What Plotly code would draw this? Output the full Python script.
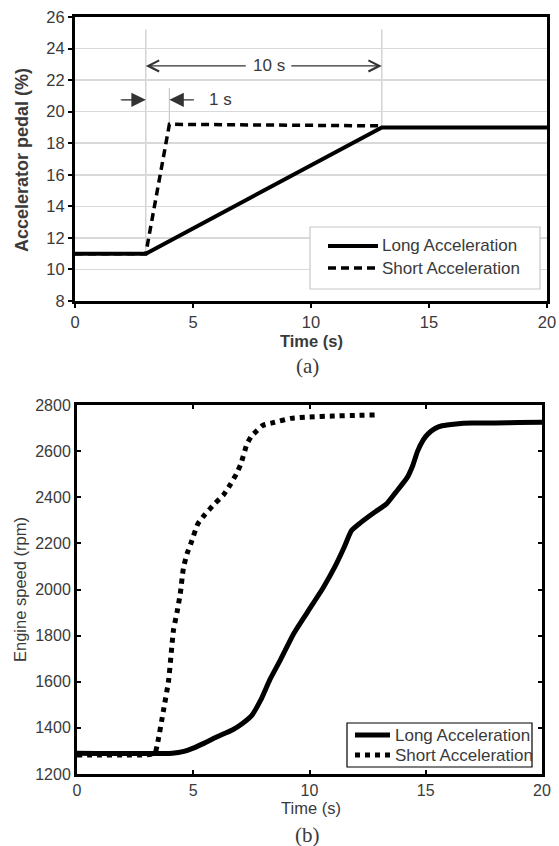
import plotly.graph_objects as go

# screen is 559x846; the page body margin is removed by a post script
W, H = 559, 846
OFF = 0
FW, FH = W - OFF, H - OFF

# ---------------- (a) accelerator pedal ----------------
pedal_time_long = [0, 3, 13, 20]
pedal_long = [11, 11, 19, 19]
pedal_time_short = [0, 3, 4, 13]
pedal_short = [11, 11, 19.2, 19.1]

pedal_yticks = [8, 10, 12, 14, 16, 18, 20, 22, 24, 26]
time_ticks = [0, 5, 10, 15, 20]

# dimension annotations (times in s, levels in %)
dim10_start, dim10_end, dim10_level = 3, 13, 22.9
dim1_start, dim1_end, dim1_level = 3, 4, 20.75

# ---------------- (b) engine speed ----------------
speed_time_long = [0, 4.1, 4.6, 5, 5.5, 6, 6.7, 7.1, 7.5, 7.9, 8.3, 8.75, 9.3, 9.9, 10.6,
                   11.1, 11.5, 11.8, 12.2, 12.8, 13.3, 13.7, 14.2, 14.45, 14.65, 14.9,
                   15.1, 15.4, 15.7, 16.3, 17, 18, 19, 20]
speed_long = [1290, 1290, 1298, 1312, 1335, 1360, 1392, 1418, 1452, 1520, 1610, 1695,
              1805, 1900, 2010, 2100, 2185, 2255, 2290, 2335, 2370, 2420, 2485, 2540,
              2600, 2650, 2675, 2698, 2710, 2718, 2722, 2722, 2724, 2725]
speed_time_short = [0, 1, 2, 3, 3.35, 3.45, 3.72, 3.94, 4.15, 4.3, 4.44, 4.58, 4.75, 4.9,
                    5.2, 5.5, 5.9, 6.3, 6.6, 6.85, 7.05, 7.3, 7.5, 7.75, 8.0, 8.5, 9.2,
                    10, 11, 12, 12.8]
speed_short = [1282, 1282, 1282, 1283, 1290, 1325, 1476, 1606, 1825, 1900, 1981, 2095,
               2160, 2200, 2285, 2325, 2370, 2410, 2456, 2500, 2545, 2628, 2665, 2690,
               2712, 2725, 2742, 2748, 2752, 2755, 2757]
speed_yticks = [1200, 1400, 1600, 1800, 2000, 2200, 2400, 2600, 2800]

series_names = ["Long Acceleration", "Short Acceleration"]

SANS = "Liberation Sans"
SERIF = "Liberation Serif"
GRAY = "#3a3a3a"


def px_x(p):
    return (p - OFF) / FW


def px_y(p):
    return 1 - (p - OFF) / FH


fig = go.Figure()

top_long_line = dict(color="black", width=4)
top_short_line = dict(color="black", width=3.5, dash="8px,5px")
bot_long_line = dict(color="black", width=5)
bot_short_line = dict(color="black", width=5, dash="dot")

fig.add_trace(go.Scatter(x=pedal_time_long, y=pedal_long, mode="lines",
                         name=series_names[0], line=top_long_line,
                         xaxis="x", yaxis="y", showlegend=False))
fig.add_trace(go.Scatter(x=pedal_time_short, y=pedal_short, mode="lines",
                         name=series_names[1], line=top_short_line,
                         xaxis="x", yaxis="y", showlegend=False))

fig.add_trace(go.Scatter(x=speed_time_long, y=speed_long, mode="lines",
                         name=series_names[0],
                         line=dict(bot_long_line, shape="spline", smoothing=0.5),
                         xaxis="x2", yaxis="y2", showlegend=False))
fig.add_trace(go.Scatter(x=speed_time_short, y=speed_short, mode="lines",
                         name=series_names[1],
                         line=dict(bot_short_line, shape="spline", smoothing=0.5),
                         xaxis="x2", yaxis="y2", showlegend=False))

# top plot area (screen px): x 75..547, y 17..301 ; bottom: x 77..542, y 405..774
top_xdom = [px_x(75), px_x(547)]
top_ydom = [px_y(301), px_y(17)]
bot_xdom = [px_x(77), px_x(542)]
bot_ydom = [px_y(774), px_y(405)]

common_axis = dict(automargin=False, zeroline=False, showline=True, linecolor="black",
                   linewidth=3, ticklen=4, tickwidth=2, tickcolor="black",
                   ticklabeloverflow="allow")

fig.update_layout(
    width=FW, height=FH, autosize=False,
    margin=dict(l=0, r=0, t=0, b=0, autoexpand=False),
    paper_bgcolor="white", plot_bgcolor="white",
    xaxis=dict(domain=top_xdom, anchor="y", range=[0, 20], tickvals=time_ticks,
               showgrid=False, mirror=True, ticks="outside",
               tickfont=dict(family=SANS, size=16.5, color=GRAY), **common_axis),
    yaxis=dict(domain=top_ydom, anchor="x", range=[8, 26], tickvals=pedal_yticks,
               showgrid=True, gridcolor="#d9d9d9", gridwidth=1.5, mirror=True,
               ticks="outside", tickfont=dict(family=SANS, size=16.5, color=GRAY),
               **common_axis),
    xaxis2=dict(domain=bot_xdom, anchor="y2", range=[0, 20], tickvals=time_ticks,
                showgrid=False, mirror="ticks", ticks="inside",
                tickfont=dict(family=SANS, size=16, color=GRAY), **common_axis),
    yaxis2=dict(domain=bot_ydom, anchor="x2", range=[1200, 2800], tickvals=speed_yticks,
                showgrid=False, mirror="ticks", ticks="inside",
                tickfont=dict(family=SANS, size=16, color=GRAY), **common_axis),
    showlegend=False,
)


def add_text(xp, yp, text, size, family=SANS, angle=0):
    fig.add_annotation(x=px_x(xp), y=px_y(yp), xref="paper", yref="paper", text=text,
                       textangle=angle, showarrow=False, xanchor="center",
                       yanchor="middle", font=dict(family=family, size=size, color=GRAY))


def add_legend(box, border, sample_x, rows, text_x, font_size):
    x0, x1, y0, y1 = box
    fig.add_shape(type="rect", xref="paper", yref="paper", x0=px_x(x0), x1=px_x(x1),
                  y0=px_y(y1), y1=px_y(y0), line=dict(color=border, width=1.2),
                  fillcolor="white", layer="above")
    for name, yc, style in rows:
        fig.add_shape(type="line", xref="paper", yref="paper", x0=px_x(sample_x[0]),
                      x1=px_x(sample_x[1]), y0=px_y(yc), y1=px_y(yc), line=style)
        fig.add_annotation(x=px_x(text_x), y=px_y(yc), xref="paper", yref="paper",
                           text=name, xanchor="left", yanchor="middle", showarrow=False,
                           font=dict(family=SANS, size=font_size, color=GRAY))


# legend for (a)
add_legend((310, 540, 227, 289), "#c8c8c8", (328, 378),
           [(series_names[0], 246, top_long_line), (series_names[1], 268, top_short_line)],
           380, 17)
# legend for (b)
add_legend((347, 532, 723, 767), "black", (355, 390),
           [(series_names[0], 735, bot_long_line), (series_names[1], 755, bot_short_line)],
           393, 17)

# dimension / extension lines on (a)
ext_lines = [
    (dim10_start, 11, 25.2),
    (dim10_end, 19, 25.2),
    (dim1_end, 19.2, 21.5),
]
for xv, y0, y1 in ext_lines:
    fig.add_shape(type="line", xref="x", yref="y", x0=xv, x1=xv, y0=y0, y1=y1,
                  line=dict(color="#c8c8c8", width=1.2), layer="below")
fig.add_shape(type="line", xref="x", yref="y", x0=1.9, x1=dim1_start,
              y0=dim1_level, y1=dim1_level, line=dict(color="#c8c8c8", width=1.2),
              layer="below")

arrow_common = dict(xref="x", yref="y", axref="x", ayref="y", text="", showarrow=True,
                    arrowcolor="#333", arrowwidth=1.2)
data_text = dict(xref="x", yref="y", showarrow=False, xanchor="center", yanchor="middle",
                 font=dict(family=SANS, size=17, color=GRAY))
# 10 s
fig.add_annotation(x=dim10_start, y=dim10_level, ax=7.3, ay=dim10_level,
                   arrowhead=5, arrowsize=1.8, **arrow_common)
fig.add_annotation(x=dim10_end, y=dim10_level, ax=9.1, ay=dim10_level,
                   arrowhead=5, arrowsize=1.8, **arrow_common)
fig.add_annotation(x=8.2, y=dim10_level, text="10 s", **data_text)
# 1 s
fig.add_annotation(x=dim1_start, y=dim1_level, ax=1.9, ay=dim1_level,
                   arrowhead=2, arrowsize=2.4, **arrow_common)
fig.add_annotation(x=dim1_end, y=dim1_level, ax=5.1, ay=dim1_level,
                   arrowhead=2, arrowsize=2.4, **arrow_common)
fig.add_annotation(x=6.15, y=dim1_level, text="1 s", **data_text)

# axis titles and panel labels
add_text(22, 160, "<b>Accelerator pedal (%)</b>", 18, angle=-90)
add_text(311, 341, "<b>Time (s)</b>", 16.5)
add_text(307, 366, "(a)", 21, family=SERIF)
add_text(20, 590, "Engine speed (rpm)", 16.5, angle=-90)
add_text(311, 808, "Time (s)", 16.5)
add_text(307, 835, "(b)", 21, family=SERIF)

page_fix = ("document.body.style.margin='0';document.body.style.padding='0';"
            "document.body.style.overflow='hidden';"
            "document.documentElement.style.overflow='hidden';")

fig.write_html("out.html", post_script=page_fix,
               config={"displayModeBar": False, "staticPlot": True})
